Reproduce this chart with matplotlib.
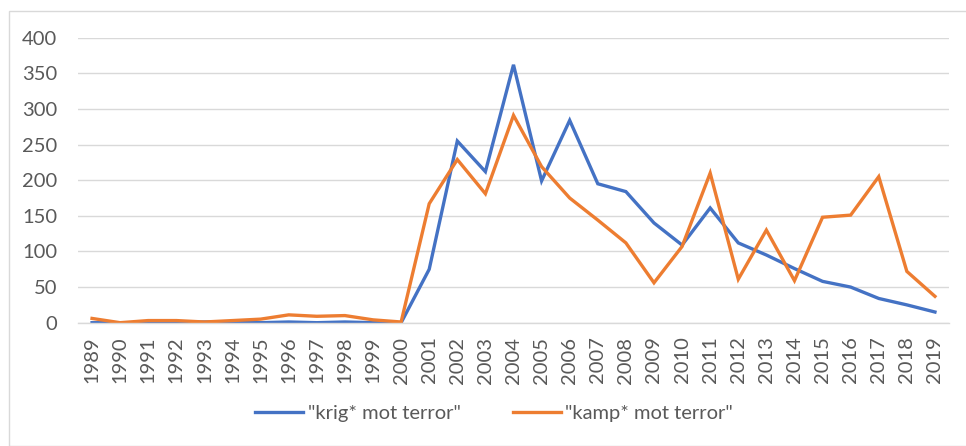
import matplotlib
matplotlib.use("Agg")
import matplotlib.pyplot as plt
from matplotlib.patches import Rectangle

years = [str(y) for y in range(1989, 2020)]
krig = [0, 0, 0, 0, 1, 1, 0, 1, 0, 1, 0, 0, 75, 255, 212, 362, 199, 284, 195, 184,
        140, 109, 161, 112, 95, 76, 58, 50, 34, 25, 15]
kamp = [6, 0, 3, 3, 1, 3, 5, 11, 9, 10, 4, 1, 167, 229, 181, 291, 219, 175, 144, 112,
        56, 107, 210, 61, 130, 59, 148, 151, 205, 72, 37]
series_names = ['"krig* mot terror"', '"kamp* mot terror"']
yticks = [0, 50, 100, 150, 200, 250, 300, 350, 400]

plt.rcParams['font.family'] = ['Lato', 'DejaVu Sans']
W, H = 966, 446
fig = plt.figure(figsize=(W / 100, H / 100), dpi=100)
fig.patch.set_facecolor('white')
fig.add_artist(Rectangle((9 / W, 0), 1, 1 - 11 / H, transform=fig.transFigure,
                         fill=False, edgecolor='#D9D9D9', linewidth=1))

ax = fig.add_axes([78 / W, 1 - 322.7 / H, (949 - 78) / W, (322.7 - 37.7) / H])
x = list(range(len(years)))
ax.plot(x, krig, color='#4472C4', linewidth=2.4, label=series_names[0], solid_joinstyle='miter')
ax.plot(x, kamp, color='#ED7D31', linewidth=2.4, label=series_names[1], solid_joinstyle='miter')

fs = 14.5
ax.set_xlim(-0.5, len(years) - 0.5)
ax.set_ylim(0, 400)
ax.set_yticks(yticks)
ax.set_yticklabels([str(v) for v in yticks], fontsize=fs, color='#595959')
ax.set_xticks(x)
ax.set_xticklabels(years, rotation=90, fontsize=fs, color='#595959')
ax.tick_params(axis='both', length=0)
ax.tick_params(axis='y', pad=15)
ax.tick_params(axis='x', pad=10)
ax.grid(axis='y', color='#D9D9D9', linewidth=1)
ax.set_axisbelow(True)
for s in ['top', 'right', 'left']:
    ax.spines[s].set_visible(False)
ax.spines['bottom'].set_color('#D9D9D9')
ax.spines['bottom'].set_linewidth(1)

fig.legend(loc='center', bbox_to_anchor=(494 / W, 1 - 413 / H), ncol=2, frameon=False,
           fontsize=fs, labelcolor='#595959', handlelength=2.4, handletextpad=0.2,
           columnspacing=2.6)

fig.savefig('out.png', dpi=100)
